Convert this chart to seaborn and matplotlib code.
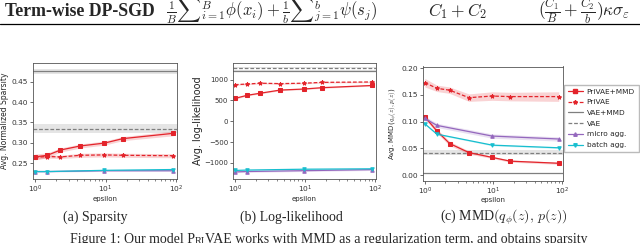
import numpy as np
import pandas as pd
import matplotlib.pyplot as plt
import seaborn as sns
from matplotlib.lines import Line2D

# ---- data ----
eps = [1.0, 1.5, 2.3, 4.4, 9.6, 17.5, 90.0]
eps_agg = [1.0, 1.5, 9.6, 90.0]

# (a) sparsity
sp_privae_mmd = [0.265, 0.269, 0.282, 0.292, 0.299, 0.310, 0.323]
sp_privae_mmd_err = [0.007, 0.006, 0.005, 0.005, 0.005, 0.005, 0.006]
sp_privae = [0.264, 0.266, 0.265, 0.269, 0.270, 0.269, 0.268]
sp_privae_err = [0.005, 0.004, 0.004, 0.005, 0.005, 0.005, 0.005]
sp_micro = [0.229, 0.229, 0.231, 0.231]
sp_batch = [0.229, 0.229, 0.232, 0.234]
sp_vae_mmd, sp_vae_mmd_err = 0.476, 0.006
sp_vae, sp_vae_err = 0.334, 0.011

# (b) log-likelihood
ll_privae_mmd = [550, 625, 675, 750, 775, 808, 860]
ll_privae_mmd_err = [20, 15, 15, 15, 15, 15, 15]
ll_privae = [880, 895, 915, 905, 915, 935, 945]
ll_privae_err = [15, 15, 15, 15, 15, 15, 15]
ll_micro = [-1215, -1205, -1185, -1160]
ll_batch = [-1180, -1170, -1150, -1140]
ll_vae_mmd, ll_vae_mmd_err = 1210, 12
ll_vae, ll_vae_err = 1280, 12

# (c) MMD
mmd_privae_mmd = [0.109, 0.0825, 0.059, 0.042, 0.033, 0.026, 0.022]
mmd_privae_mmd_err = [0.004, 0.004, 0.004, 0.003, 0.002, 0.002, 0.002]
mmd_privae = [0.173, 0.1625, 0.159, 0.145, 0.148, 0.147, 0.147]
mmd_privae_err = [0.008, 0.006, 0.006, 0.007, 0.008, 0.008, 0.009]
mmd_micro = [0.106, 0.093, 0.073, 0.0675]
mmd_batch = [0.096, 0.0766, 0.056, 0.051]
mmd_vae_mmd, mmd_vae_mmd_err = 0.003, 0.0005
mmd_vae, mmd_vae_err = 0.042, 0.004

labels = ["PriVAE+MMD", "PriVAE", "VAE+MMD", "VAE", "micro agg.", "batch agg."]

RED = "#e3242b"
PURPLE = "#9467bd"
CYAN = "#17becf"
GRAY = "#7f7f7f"

sns.set_style("ticks")
plt.rcParams["mathtext.fontset"] = "cm"

W, H = 640, 243
fig = plt.figure(figsize=(W / 100, H / 100), dpi=100)


def px_axes(left, top, right, bottom):
    return fig.add_axes([left / W, 1 - bottom / H, (right - left) / W, (bottom - top) / H])


def draw_panel(ax, pm, pm_err, p, p_err, micro, batch, vmmd, vmmd_err, v, v_err, agg_err):
    ax.axhspan(vmmd - vmmd_err, vmmd + vmmd_err, color=GRAY, alpha=0.2, lw=0)
    ax.axhline(vmmd, color=GRAY, lw=0.9)
    ax.axhspan(v - v_err, v + v_err, color=GRAY, alpha=0.2, lw=0)
    ax.axhline(v, color=GRAY, lw=0.9, ls=(0, (3, 1.5)))

    pm, pm_err, p, p_err = map(np.asarray, (pm, pm_err, p, p_err))
    ax.fill_between(eps, pm - pm_err, pm + pm_err, color=RED, alpha=0.2, lw=0)
    ax.fill_between(eps, p - p_err, p + p_err, color=RED, alpha=0.2, lw=0)
    sns.lineplot(x=eps, y=pm, ax=ax, color=RED, lw=0.9, marker="s", ms=2.5, mec=RED)
    sns.lineplot(x=eps, y=p, ax=ax, color=RED, lw=0.9, ls=(0, (3, 1.5)), marker="*", ms=3, mec=RED)

    micro, batch = np.asarray(micro), np.asarray(batch)
    ax.fill_between(eps_agg, micro - agg_err, micro + agg_err, color=PURPLE, alpha=0.2, lw=0)
    ax.fill_between(eps_agg, batch - agg_err / 3, batch + agg_err / 3, color=CYAN, alpha=0.2, lw=0)
    sns.lineplot(x=eps_agg, y=micro, ax=ax, color=PURPLE, lw=0.9, marker="^", ms=2.5, mec=PURPLE)
    sns.lineplot(x=eps_agg, y=batch, ax=ax, color=CYAN, lw=0.9, marker="v", ms=2.5, mec=CYAN)

    ax.set_xscale("log")
    ax.set_xlim(0.94, 102)
    ax.set_xlabel("epsilon", fontsize=5, labelpad=0.5)
    ax.tick_params(labelsize=5.4, length=2, width=0.5, pad=1.5, colors="#333333")
    ax.tick_params(which="minor", length=1.2, width=0.4)
    for s in ax.spines.values():
        s.set_visible(True)
        s.set_color("#555555")
        s.set_linewidth(0.6)


ax_a = px_axes(33, 63, 177, 179)
draw_panel(ax_a, sp_privae_mmd, sp_privae_mmd_err, sp_privae, sp_privae_err,
           sp_micro, sp_batch, sp_vae_mmd, sp_vae_mmd_err, sp_vae, sp_vae_err, 0.0015)
ax_a.set_ylim(0.2107, 0.496)
ax_a.set_yticks([0.25, 0.30, 0.35, 0.40, 0.45])
ax_a.set_ylabel("Avg. Normalized Sparsity", fontsize=5.5, labelpad=2)

ax_b = px_axes(233, 63, 376, 179)
draw_panel(ax_b, ll_privae_mmd, ll_privae_mmd_err, ll_privae, ll_privae_err,
           ll_micro, ll_batch, ll_vae_mmd, ll_vae_mmd_err, ll_vae, ll_vae_err, 20)
ax_b.set_ylim(-1385, 1400)
ax_b.set_yticks([-1000, -500, 0, 500, 1000])
ax_b.tick_params(axis="y", labelsize=5)
ax_b.set_ylabel("Avg. log-likelihood", fontsize=7, labelpad=1)

ax_c = px_axes(423, 66.5, 562.5, 180.5)
draw_panel(ax_c, mmd_privae_mmd, mmd_privae_mmd_err, mmd_privae, mmd_privae_err,
           mmd_micro, mmd_batch, mmd_vae_mmd, mmd_vae_mmd_err, mmd_vae, mmd_vae_err, 0.004)
ax_c.set_ylim(-0.0103, 0.2034)
ax_c.set_yticks([0.0, 0.05, 0.10, 0.15, 0.20])
ax_c.set_ylabel(r"Avg. MMD($q_\phi(z), p(z)$)", fontsize=5, labelpad=2)

handles = [
    Line2D([], [], color=RED, lw=0.9, marker="s", ms=2.5),
    Line2D([], [], color=RED, lw=0.9, ls=(0, (3, 1.5)), marker="*", ms=3),
    Line2D([], [], color=GRAY, lw=0.9),
    Line2D([], [], color=GRAY, lw=0.9, ls=(0, (3, 1.5))),
    Line2D([], [], color=PURPLE, lw=0.9, marker="^", ms=2.5),
    Line2D([], [], color=CYAN, lw=0.9, marker="v", ms=2.5),
]
ax_c.legend(handles, labels, loc="upper left", bbox_to_anchor=(1.01, 0.84),
            borderaxespad=0, fontsize=5.3, labelspacing=0.62, handlelength=2.1,
            handletextpad=0.5, borderpad=0.5,
            frameon=True, fancybox=False, edgecolor="#bbbbbb", framealpha=1)

# ---- surrounding page text ----
serif = ["Liberation Serif", "DejaVu Serif"]
fig.text(5 / W, 1 - 11 / H, "Term-wise DP-SGD", family=serif, fontweight="bold",
         fontsize=12.8, va="center", ha="left")
fig.text(272 / W, 1 - 11 / H,
         r"$\frac{1}{B}{\sum}_{i=1}^{B}\phi(x_i)+\frac{1}{b}{\sum}_{j=1}^{b}\psi(s_j)$",
         fontsize=12, va="center", ha="center")
fig.text(458 / W, 1 - 11 / H, r"$C_1+C_2$", fontsize=12.5, va="center", ha="center")
fig.text(584 / W, 1 - 11 / H, r"$(\frac{C_1}{B}+\frac{C_2}{b})\kappa\sigma_\varepsilon$",
         fontsize=12.5, va="center", ha="center")
fig.add_artist(Line2D([0, 1], [1 - 24.5 / H] * 2, color="black", lw=0.9))

fig.text(95 / W, 1 - 217 / H, "(a) Sparsity", family=serif, fontsize=10, ha="center", va="center")
fig.text(291 / W, 1 - 217 / H, "(b) Log-likelihood", family=serif, fontsize=10, ha="center", va="center")
fig.text(504 / W, 1 - 217 / H, r"(c) MMD$(q_\phi(z),\, p(z))$", family=serif, fontsize=10,
         ha="center", va="center")

t1 = fig.text(70 / W, 1 - 243.5 / H, "Figure 1: Our model P", family=serif, fontsize=10,
              ha="left", va="baseline")
t2 = fig.text(0, 0, "RI", family=serif, fontsize=7.5, ha="left", va="baseline")
t3 = fig.text(0, 0, "VAE works with MMD as a regularization term, and obtains sparsity",
              family=serif, fontsize=10, ha="left", va="baseline")


def chain(prev, cur):
    r = fig.canvas.get_renderer()
    bb = prev.get_window_extent(r).transformed(fig.transFigure.inverted())
    cur.set_position((bb.x1, prev.get_position()[1]))


chain(t1, t2)
chain(t2, t3)

fig.savefig("out.png", dpi=100)
